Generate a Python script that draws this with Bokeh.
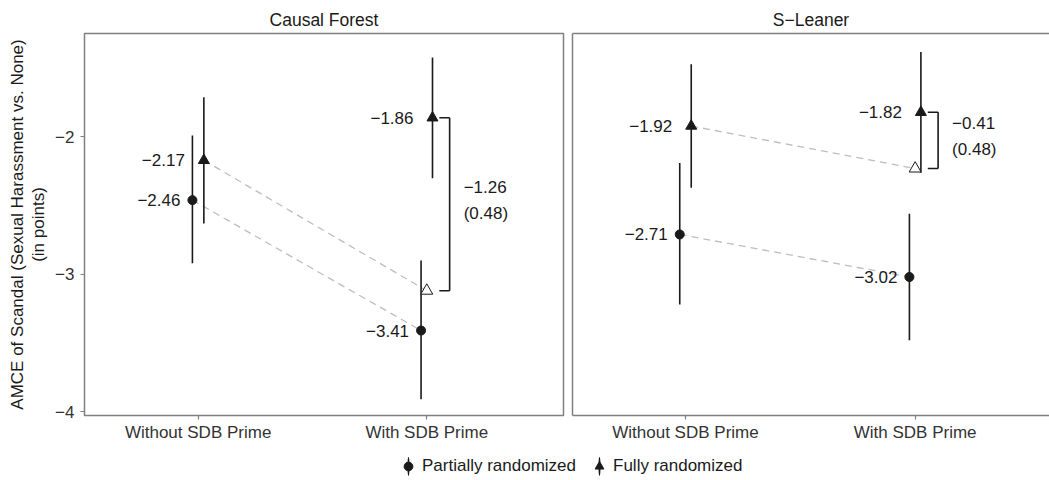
import math
from bokeh.plotting import figure
from bokeh.layouts import column, row
from bokeh.models import (ColumnDataSource, FixedTicker, Legend, LegendItem, Range1d,
                          LinearAxis)
from bokeh.core.properties import value
from bokeh.embed import file_html
from bokeh.resources import INLINE

# ---------------- data ----------------
panel_titles = ["Causal Forest", "S\u2212Leaner"]
conditions = ["Without SDB Prime", "With SDB Prime"]
series_names = ["Partially randomized", "Fully randomized"]

# Causal Forest: [Without SDB Prime, With SDB Prime]
cf_partial = [-2.46, -3.41]
cf_partial_lo = [-2.92, -3.91]
cf_partial_hi = [-1.99, -2.90]
cf_full = [-2.17, -1.86]
cf_full_lo = [-2.63, -2.30]
cf_full_hi = [-1.71, -1.42]
cf_diff_se = 0.48

# S-Leaner
sl_partial = [-2.71, -3.02]
sl_partial_lo = [-3.22, -3.48]
sl_partial_hi = [-2.19, -2.56]
sl_full = [-1.92, -1.82]
sl_full_lo = [-2.37, -2.26]
sl_full_hi = [-1.47, -1.38]
sl_diff_se = 0.48

y_ticks = [-4, -3, -2]
y_tick_labels = ["\u22124", "\u22123", "\u22122"]
y_label_lines = ["AMCE of Scandal (Sexual Harassment vs. None)", "(in points)"]

# ---------------- style ----------------
FONT = "Liberation Sans"
INK = "#1a1a1a"
TICKTXT = "#333333"
FRAME = "#808080"
DASH = "#bdbdbd"
D = 0.025                 # dodge (data units)
B0, B1 = 0.055, 0.10      # bracket start / vertical line offsets (data units)
Y0, Y1 = -4.029, -1.246


def fmt(v):
    return f"{v:.2f}".replace("-", "\u2212")


def bare_axis(**kw):
    return LinearAxis(ticker=FixedTicker(ticks=[]), major_tick_line_color=None,
                      minor_tick_line_color=None, major_label_text_font_size="0px",
                      major_tick_out=0, major_tick_in=0, major_label_standoff=0, **kw)


def make_panel(title, partial, p_lo, p_hi, full, f_lo, f_hi, diff_se,
               width, left, right, x0, x1, show_y):
    p = figure(width=width, height=450, title=title,
               x_range=Range1d(x0, x1), y_range=Range1d(Y0, Y1),
               toolbar_location=None, output_backend="svg",
               y_axis_location="left" if show_y else None,
               min_border_left=left, min_border_right=right,
               min_border_top=33, min_border_bottom=35,
               background_fill_color="white", border_fill_color="white")
    p.title.align = "center"
    p.title.text_font = FONT
    p.title.text_font_size = "17.5px"
    p.title.text_font_style = "normal"
    p.title.text_color = INK
    p.title.standoff = 7
    p.title.offset = 0
    p.grid.visible = False

    for ax in p.axis:
        ax.axis_line_color = None
        ax.major_tick_line_color = FRAME
        ax.major_tick_line_width = 1.2
        ax.major_tick_out = 4
        ax.major_tick_in = 0
        ax.minor_tick_line_color = None
        ax.major_label_text_font = FONT
        ax.major_label_text_font_size = "17px"
        ax.major_label_text_color = TICKTXT
    p.xaxis.ticker = FixedTicker(ticks=[1, 2])
    p.xaxis.major_label_overrides = {1: conditions[0], 2: conditions[1]}
    p.xaxis.major_label_standoff = 3
    label_style = dict(axis_label_text_font=FONT, axis_label_text_font_size="17px",
                       axis_label_text_font_style="normal", axis_label_text_color=INK)
    if show_y:
        p.outline_line_color = FRAME
        p.outline_line_width = 1.5
        ya = p.yaxis[0]
        ya.ticker = FixedTicker(ticks=y_ticks)
        ya.major_label_overrides = {t: l for t, l in zip(y_ticks, y_tick_labels)}
        ya.major_label_standoff = 6
        ya.axis_label = y_label_lines[1]
        ya.axis_label_standoff = 4
        for k, v in label_style.items():
            setattr(ya, k, v)
        outer = bare_axis(axis_line_color=None, axis_label=y_label_lines[0],
                          axis_label_standoff=0, **label_style)
        p.add_layout(outer, "left")
    else:
        # panel continues past the image edge: border only on bottom, left, top
        p.outline_line_color = None
        p.xaxis.axis_line_color = FRAME
        p.xaxis.axis_line_width = 1.5
        for loc in ("left", "above"):
            p.add_layout(bare_axis(axis_line_color=FRAME, axis_line_width=1.5), loc)

    cf_y = full[0] + (partial[1] - partial[0])   # counterfactual (hollow triangle)
    diff = cf_y - full[1]

    xs = [1, 2]
    psrc = ColumnDataSource(dict(x=[x - D for x in xs], y=partial, lo=p_lo, hi=p_hi,
                                 lab=[fmt(v) for v in partial]))
    fsrc = ColumnDataSource(dict(x=[x + D for x in xs], y=full, lo=f_lo, hi=f_hi,
                                 lab=[fmt(v) for v in full]))

    # dashed connectors
    p.segment(x0=[1 + D, 1 - D], y0=[full[0], partial[0]],
              x1=[2, 2 - D], y1=[cf_y, partial[1]],
              line_color=DASH, line_width=1.3, line_dash="7 5")
    # error bars
    p.segment(x0="x", y0="lo", x1="x", y1="hi", source=psrc, line_color=INK, line_width=1.6)
    p.segment(x0="x", y0="lo", x1="x", y1="hi", source=fsrc, line_color=INK, line_width=1.6)
    # bracket
    p.segment(x0=[2 + B0, 2 + B1, 2 + B0], y0=[full[1], full[1], cf_y],
              x1=[2 + B1, 2 + B1, 2 + B1], y1=[full[1], cf_y, cf_y],
              line_color=INK, line_width=1.6)
    # points
    p.scatter("x", "y", source=psrc, marker="circle", size=9, fill_color=INK, line_color=INK)
    p.scatter("x", "y", source=fsrc, marker="triangle", size=11, fill_color=INK, line_color=INK)
    p.scatter(x=[2], y=[cf_y], marker="triangle", size=12, fill_color="white",
              line_color=INK, line_width=1)
    # value labels
    common = dict(text_font=value(FONT), text_font_size="17px", text_color=INK,
                  text_align="right", text_baseline="middle")
    p.text("x", "y", text="lab", source=psrc, x_offset=-12, **common)
    p.text("x", "y", text="lab", source=fsrc, x_offset=-19, **common)
    # difference label
    p.text(x=[2 + B1], y=[(full[1] + cf_y) / 2],
           text=[fmt(diff) + "\n(" + f"{diff_se:.2f}" + ")"],
           x_offset=14, y_offset=-4, text_font=value(FONT), text_font_size="17px",
           text_color=INK, text_align="left", text_baseline="middle", text_line_height=1.38)
    return p


p1 = make_panel(panel_titles[0], cf_partial, cf_partial_lo, cf_partial_hi,
                cf_full, cf_full_lo, cf_full_hi, cf_diff_se,
                width=567, left=84, right=4, x0=0.503, x1=2.598, show_y=True)
p2 = make_panel(panel_titles[1], sl_partial, sl_partial_lo, sl_partial_hi,
                sl_full, sl_full_lo, sl_full_hi, sl_diff_se,
                width=482, left=5, right=0, x0=0.508, x1=2.585, show_y=False)

# ---------------- legend strip ----------------
leg = figure(width=1049, height=30, toolbar_location=None, output_backend="svg",
             x_range=Range1d(0, 1), y_range=Range1d(0, 1),
             x_axis_location=None, y_axis_location=None,
             min_border=0, outline_line_color=None,
             background_fill_color="white", border_fill_color="white")
leg.grid.visible = False
nan = float("nan")
src_leg = ColumnDataSource(dict(x=[nan], y=[nan], w=[1], h=[24]))
# thin tall ellipse -> vertical error-bar stroke in the legend key
r_bar1 = leg.ellipse("x", "y", width="w", height="h", source=src_leg,
                     width_units="screen", height_units="screen",
                     fill_color=INK, line_color=INK, line_width=1.2)
r_pt1 = leg.scatter("x", "y", source=src_leg, marker="circle", fill_color=INK, line_color=INK)
r_bar2 = leg.ellipse("x", "y", width="w", height="h", source=src_leg,
                     width_units="screen", height_units="screen",
                     fill_color=INK, line_color=INK, line_width=1.2)
r_pt2 = leg.scatter("x", "y", source=src_leg, marker="triangle", fill_color=INK, line_color=INK)
legend = Legend(items=[LegendItem(label=series_names[0], renderers=[r_bar1, r_pt1]),
                       LegendItem(label=series_names[1], renderers=[r_bar2, r_pt2])],
                orientation="horizontal", location=(397, 3),
                border_line_color=None, background_fill_alpha=0,
                padding=0, margin=0, glyph_width=22, glyph_height=22,
                label_standoff=3, spacing=12,
                label_text_font=FONT, label_text_font_size="17px", label_text_color=INK)
leg.add_layout(legend)

layout = column(row(p1, p2), leg)
open("out.html", "w").write(file_html(layout, INLINE))
